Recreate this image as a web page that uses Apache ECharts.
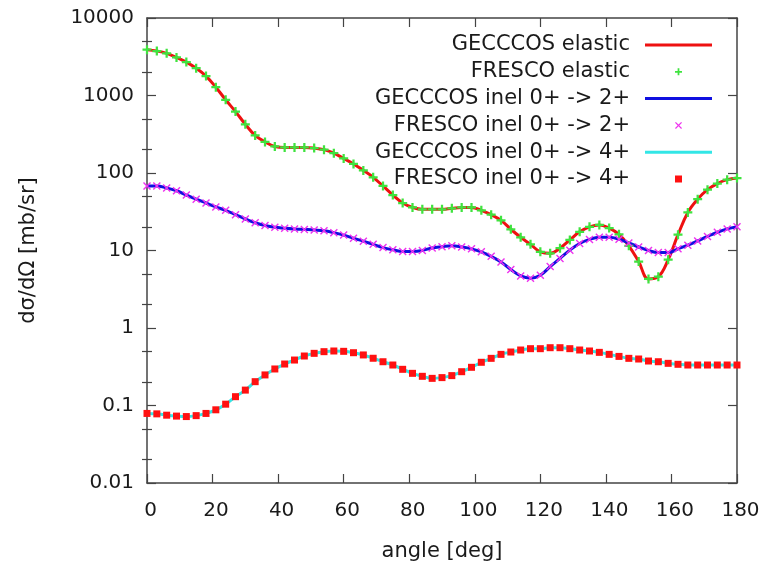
<!DOCTYPE html>
<html>
<head>
<meta charset="utf-8">
<script src="https://cdn.jsdelivr.net/npm/echarts@6/dist/echarts.min.js"></script>
<style>
  html, body { margin: 0; padding: 0; background: #fff; }
  #chart { width: 763px; height: 565px; }
</style>
</head>
<body>
<div id="chart"></div>
<script>
// angles (deg) of the FRESCO points, every 3 degrees
const angles = [0, 3, 6, 9, 12, 15, 18, 21, 24, 27, 30, 33, 36, 39, 42, 45, 48, 51, 54, 57,
  60, 63, 66, 69, 72, 75, 78, 81, 84, 87, 90, 93, 96, 99, 102, 105, 108, 111, 114, 117,
  120, 123, 126, 129, 132, 135, 138, 141, 144, 147, 150, 153, 156, 159, 162, 165, 168, 171, 174, 177, 180];

// elastic cross section (mb/sr)
const elastic = [3900, 3750, 3500, 3100, 2700, 2250, 1780, 1280, 880, 620,
  425, 305, 252, 220, 214, 214, 214, 210, 200, 180,
  154, 131, 108, 88, 68, 52, 41, 36, 34, 34,
  34, 35, 36, 36, 33, 29, 24.5, 18.8, 14.8, 12.0,
  9.6, 9.2, 10.7, 13.7, 17.4, 20.2, 21.4, 19.5, 16.2, 11.5,
  7.2, 4.3, 4.6, 7.6, 16, 31, 46, 61, 73, 82, 86];

// inelastic 0+ -> 2+
const inel2 = [68, 68, 64, 59, 52, 46, 41, 36.5, 33, 29,
  25.5, 22.8, 21, 19.9, 19.4, 19, 18.7, 18.4, 18, 17,
  15.8, 14.4, 13.2, 12, 10.9, 10.2, 9.7, 9.7, 10, 10.8,
  11.2, 11.5, 11.1, 10.5, 9.6, 8.4, 7.1, 5.7, 4.7, 4.4,
  4.8, 6.2, 7.9, 10.1, 12.3, 13.9, 14.8, 14.8, 14, 12.5,
  11.1, 10, 9.4, 9.4, 10.5, 11.7, 13.3, 15.2, 17.2, 19, 20.3];

// inelastic 0+ -> 4+
const inel4 = [0.079, 0.078, 0.075, 0.073, 0.072, 0.074, 0.079, 0.088, 0.104, 0.130,
  0.158, 0.203, 0.248, 0.296, 0.343, 0.386, 0.435, 0.471, 0.495, 0.505,
  0.50, 0.48, 0.449, 0.407, 0.367, 0.333, 0.293, 0.26, 0.238, 0.224,
  0.229, 0.243, 0.273, 0.311, 0.361, 0.406, 0.457, 0.49, 0.52, 0.541,
  0.541, 0.557, 0.557, 0.541, 0.52, 0.505, 0.485, 0.457, 0.43, 0.406,
  0.398, 0.375, 0.367, 0.35, 0.34, 0.333, 0.333, 0.333, 0.333, 0.333, 0.333];

const yTickValues = [0.01, 0.1, 1, 10, 100, 1000, 10000];
const yTickLabels = ['0.01', '0.1', '1', '10', '100', '1000', '10000'];
const yMinorFactors = [2, 5];

const seriesNames = [
  'GECCCOS elastic', 'FRESCO elastic',
  'GECCCOS inel 0+ -> 2+', 'FRESCO inel 0+ -> 2+',
  'GECCCOS inel 0+ -> 4+', 'FRESCO inel 0+ -> 4+'
];

const FONT = 'DejaVu Sans';
const AXIS_COLOR = '#444';
const TEXT_COLOR = '#1a1a1a';

// minor tick positions in log10 space (hidden helper axes)
const minorLog = [];
for (let d = -2; d < 4; d++) {
  yMinorFactors.forEach(f => minorLog.push(d + Math.log10(f)));
}

const PLUS = 'path://M3,0H5V3H8V5H5V8H3V5H0V3H3Z';
const CROSS = 'path://M0,1L1,0L4,3L7,0L8,1L5,4L8,7L7,8L4,5L1,8L0,7L3,4Z';
const STAR = 'path://M0,0H8V8H0Z';
// long thin bar used as legend icon for the curves
const BAR = 'path://M0,0H67V3H0Z';

const pairs = (ys) => angles.map((a, i) => [a, ys[i]]);

function lineSeries(name, ys, color) {
  return {
    name, type: 'line', data: pairs(ys), smooth: 0.4, z: 2,
    symbol: 'none', lineStyle: { color, width: 3 }, itemStyle: { color },
    animation: false
  };
}
function pointSeries(name, ys, color, symbol, size) {
  return {
    name, type: 'scatter', data: pairs(ys), symbol, symbolSize: size, z: 3,
    itemStyle: { color, opacity: 1 }, animation: false
  };
}

const chart = echarts.init(document.getElementById('chart'), null, { renderer: 'canvas' });

const xCommon = {
  type: 'value', min: 0, max: 180, interval: 20,
  splitLine: { show: false },
  axisLine: { show: true, onZero: false, lineStyle: { color: AXIS_COLOR, width: 1.5 } },
  axisTick: { inside: true, length: 9, lineStyle: { color: AXIS_COLOR, width: 1.2 } }
};
const yLogCommon = {
  type: 'log', logBase: 10, min: 0.01, max: 10000,
  splitLine: { show: false }, minorTick: { show: false },
  axisLine: { show: true, onZero: false, lineStyle: { color: AXIS_COLOR, width: 1.5 } },
  axisTick: { inside: true, length: 9, lineStyle: { color: AXIS_COLOR, width: 1.2 } }
};
const yMinorCommon = {
  type: 'value', min: -2, max: 4,
  splitLine: { show: false },
  axisLine: { show: false },
  axisLabel: { show: false },
  axisTick: { inside: true, length: 5, customValues: minorLog, lineStyle: { color: AXIS_COLOR, width: 1.2 } }
};

const legendData = seriesNames.map((n, i) => (i % 2 === 0 ? { name: n, icon: BAR } : { name: n }));

const option = {
  backgroundColor: '#ffffff',
  animation: false,
  textStyle: { fontFamily: FONT },
  grid: { left: 147, right: 26, top: 18, bottom: 82, outerBoundsMode: 'none' },
  legend: {
    data: legendData,
    orient: 'vertical',
    align: 'right',
    right: 46,
    top: 29,
    itemWidth: 67,
    itemHeight: 7,
    itemGap: 4.8,
    selectedMode: false,
    textStyle: { fontFamily: FONT, fontSize: 21, color: TEXT_COLOR, lineHeight: 22, padding: [0, 10, 0, 0] }
  },
  xAxis: [
    Object.assign({}, xCommon, {
      position: 'bottom',
      name: 'angle [deg]', nameLocation: 'middle', nameGap: 58,
      nameTextStyle: { fontFamily: FONT, fontSize: 21, color: TEXT_COLOR },
      axisLabel: { fontFamily: FONT, fontSize: 20, color: TEXT_COLOR, margin: 18, padding: [0, 0, 0, 7] }
    }),
    Object.assign({}, xCommon, { position: 'top', axisLabel: { show: false } })
  ],
  yAxis: [
    Object.assign({}, yLogCommon, {
      position: 'left',
      name: 'dσ/dΩ [mb/sr]', nameLocation: 'middle', nameGap: 108,
      nameTextStyle: { fontFamily: FONT, fontSize: 21, color: TEXT_COLOR },
      axisLabel: {
        fontFamily: FONT, fontSize: 20, color: TEXT_COLOR, margin: 13,
        formatter: (v) => {
          let best = 0;
          yTickValues.forEach((t, i) => {
            if (Math.abs(Math.log10(t) - Math.log10(v)) < Math.abs(Math.log10(yTickValues[best]) - Math.log10(v))) best = i;
          });
          return yTickLabels[best];
        }
      }
    }),
    Object.assign({}, yMinorCommon, { position: 'left' }),
    Object.assign({}, yLogCommon, { position: 'right', axisLabel: { show: false } }),
    Object.assign({}, yMinorCommon, { position: 'right' })
  ],
  series: [
    lineSeries(seriesNames[0], elastic, '#ee1111'),
    pointSeries(seriesNames[1], elastic, '#3fe33f', PLUS, 9),
    lineSeries(seriesNames[2], inel2, '#1010e0'),
    pointSeries(seriesNames[3], inel2, '#ee33ee', CROSS, 8),
    lineSeries(seriesNames[4], inel4, '#33e6e6'),
    pointSeries(seriesNames[5], inel4, '#ff1111', STAR, 7)
  ]
};

chart.setOption(option);
</script>
</body>
</html>
